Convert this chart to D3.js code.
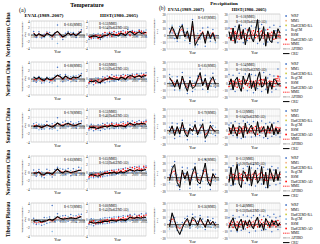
<!DOCTYPE html>
<html><head><meta charset="utf-8">
<script src="https://cdn.jsdelivr.net/npm/d3@7"></script>
<style>body{margin:0;background:#fff}svg{display:block}text{font-family:"Liberation Serif","Times New Roman",serif}</style>
</head><body><svg id="c" width="320" height="244"></svg>
<script>
const regions = ["Northeastern China","Northern China","Southern China","Northwestern China","Tibetan Plateau"];
const evalYears = [1989,1990,1991,1992,1993,1994,1995,1996,1997,1998,1999,2000,2001,2002,2003,2004,2005,2006,2007];
const histYears = [1980,1981,1982,1983,1984,1985,1986,1987,1988,1989,1990,1991,1992,1993,1994,1995,1996,1997,1998,1999,2000,2001,2002,2003,2004,2005];
const evalTicks = [1988,1992,1996,2000,2004,2008];
const histTicks = [1980,1985,1990,1995,2000,2005];
const tempTicks = [-4,-2,0,2,4];
const precTicks = [-20,-10,0,10,20,30];
const legendNames = ["WRF","MM5","HadGEM3-RA","RegCM","RSM","HadGEM3-AO","MME","APHRO","CRU"];

// Temperature EVAL (1989-2007), °C
const tempEvalCRU = [
[0.3,-0.4,0.2,-0.2,-0.6,0.3,-0.1,-0.5,0.4,0.9,0.1,-0.7,-0.3,0.5,-0.2,0.3,-0.4,0.3,0.9],
[0.4,-0.1,0.3,-0.2,-0.5,0.2,-0.3,-0.2,0.3,0.8,0.5,-0.1,0.6,0.2,-0.1,0.4,0.2,0.3,0.9],
[-0.3,-0.1,-0.2,-0.5,-0.2,0.1,-0.1,-0.4,0.0,0.6,0.2,-0.1,0.3,0.5,0.2,0.1,0.0,0.4,0.5],
[-0.2,-0.1,0.1,-0.6,-0.5,-0.1,-0.2,-0.4,0.3,0.9,0.2,-0.1,0.4,0.2,0.0,0.1,0.3,0.5,0.6],
[-0.4,-0.2,-0.3,-0.6,-0.4,-0.3,0.1,-0.2,0.2,0.7,0.3,0.1,0.2,0.3,0.4,0.3,0.2,0.5,0.7]];
const tempEvalMME = [
[0.5,-0.6,0.4,-0.5,-0.4,0.6,0.0,-0.8,0.2,1.0,-0.3,-0.9,-0.1,0.3,0.1,0.0,-0.2,0.5,1.1],
[-0.2,-0.4,0.1,-0.5,-0.6,-0.1,-0.4,-0.5,0.2,0.7,0.3,-0.3,0.4,0.0,-0.3,0.2,0.0,0.5,0.8],
[-0.1,0.2,-0.4,-0.3,-0.4,0.3,-0.3,-0.2,0.2,0.5,0.0,0.2,0.4,0.3,0.4,-0.1,0.2,0.3,0.6],
[0.0,-0.3,0.3,-0.4,-0.7,0.1,0.0,-0.6,0.1,0.7,0.4,0.1,0.2,0.4,-0.2,0.3,0.1,0.6,0.4],
[-0.5,-0.9,-0.6,-0.8,-0.5,-0.3,-0.1,-0.4,0.0,0.5,0.2,0.3,0.4,0.1,0.5,0.4,0.3,0.9,0.6]];
const tempEvalWRF = [
[0.9,-0.9,0.8,-1.0,0.1,0.3,0.6,-1.3,0.0,2.8,-0.2,-1.5,0.4,0.9,-0.4,0.6,-0.9,0.1,1.4],
[-0.6,-0.9,0.5,-1.1,-0.2,0.3,-0.9,0.1,-0.4,2.7,0.9,-0.8,1.0,-0.5,0.4,-0.3,0.6,0.1,1.2],
[0.4,-0.6,0.3,-0.9,0.2,1.0,-0.8,0.4,-0.5,1.9,-0.6,0.8,1.1,-0.3,0.9,0.5,-0.4,0.9,1.1],
[0.6,-0.9,0.7,-1.0,-1.3,0.8,-0.5,-1.1,0.7,1.3,-0.2,0.8,-0.4,1.0,-0.8,0.9,-0.4,1.3,-0.3],
[0.3,-1.2,-0.2,-1.4,0.5,-0.9,0.6,3.4,-0.5,1.4,-0.4,0.9,1.0,-0.4,1.2,-0.1,0.9,0.4,1.3]];
const tempEvalRegCM = [
[-0.1,-0.2,0.0,-0.2,-0.9,0.9,-0.5,-0.3,0.5,-2.7,-0.6,-0.5,-0.4,0.2,0.6,-0.3,0.2,0.8,0.7],
[0.3,0.1,-0.4,0.2,-1.0,-0.6,0.2,-1.1,0.8,-1.9,-0.3,0.3,-0.2,0.6,-0.8,0.7,-0.5,0.9,0.4],
[-0.6,0.7,-1.0,0.3,-0.9,-0.5,0.2,-0.9,0.8,-1.2,0.5,-0.4,-0.2,0.8,-0.1,-0.6,0.6,-0.2,0.1],
[-0.5,0.3,-0.2,0.2,-0.1,-0.6,0.5,-0.2,-0.5,0.2,1.0,-0.7,0.7,-0.3,0.5,-0.4,0.6,0.0,1.1],
[-1.0,-0.5,-1.1,-0.2,-1.2,0.4,-0.7,-2.9,0.6,-0.3,0.8,-0.4,-0.3,0.7,-0.1,0.9,-0.4,1.3,0.1]];

// Temperature HIST (1980-2005), °C
const tempHistCRU = [
[-0.9,-0.6,-0.4,-0.5,-0.8,-1.0,-0.5,-0.3,-0.2,0.3,0.1,-0.1,-0.3,-0.4,0.4,0.1,-0.3,0.5,0.9,0.5,-0.1,0.4,0.8,0.3,0.5,0.6],
[-0.6,-0.8,-0.7,-0.5,-0.9,-1.0,-0.4,-0.3,-0.1,0.2,0.1,-0.1,-0.2,-0.3,0.3,0.1,-0.2,0.4,0.7,0.6,0.2,0.5,0.7,0.3,0.6,0.7],
[-0.3,-0.5,-0.4,-0.6,-0.7,-0.5,-0.3,-0.2,-0.4,-0.1,0.1,-0.2,-0.3,-0.1,0.0,-0.2,-0.3,0.2,0.6,0.3,0.1,0.4,0.3,0.5,0.4,0.3],
[-0.7,-0.5,-0.6,-0.8,-0.9,-0.6,-0.4,-0.2,-0.3,0.0,-0.1,0.1,-0.2,-0.1,0.2,-0.1,0.1,0.4,0.7,0.5,0.3,0.6,0.5,0.4,0.6,0.7],
[-0.6,-0.7,-0.9,-0.8,-0.7,-0.8,-0.5,-0.4,-0.5,-0.3,-0.2,-0.3,-0.4,-0.2,0.0,-0.1,-0.2,0.1,0.6,0.4,0.3,0.5,0.4,0.3,0.6,0.5]];
const tempHistMME = [
[-0.7,-0.9,-0.3,-0.6,-0.2,-0.8,-0.4,0.0,-0.5,0.2,-0.1,0.3,-0.2,0.1,0.5,-0.1,0.4,0.3,0.0,0.7,0.4,0.2,0.9,0.6,0.4,0.8],
[-0.8,-0.6,-0.9,-0.4,-0.6,-0.7,-0.2,-0.4,0.0,-0.1,0.2,0.0,0.1,0.2,0.1,0.4,0.3,0.2,0.5,0.3,0.6,0.4,0.5,0.8,0.7,0.6],
[-0.5,-0.2,-0.6,-0.3,-0.4,-0.6,-0.1,-0.3,0.0,-0.2,0.2,-0.1,0.1,0.0,0.2,-0.1,0.1,0.3,0.2,0.4,0.2,0.3,0.5,0.3,0.4,0.6],
[-0.9,-0.7,-0.5,-0.7,-0.6,-0.5,-0.3,-0.4,-0.1,-0.2,0.1,0.0,0.2,0.1,0.3,0.2,0.4,0.3,0.5,0.6,0.4,0.7,0.8,0.6,0.9,0.8],
[-0.5,-0.8,-0.6,-0.9,-0.5,-0.6,-0.3,-0.5,-0.2,-0.4,0.0,-0.2,-0.1,0.1,-0.2,0.2,0.0,0.3,0.4,0.2,0.5,0.3,0.6,0.5,0.4,0.7]];
const tempHistWRF = [
[-1.4,-0.5,-1.1,-0.1,-0.9,-1.5,0.2,-0.6,0.4,-0.4,0.6,-0.3,0.5,0.8,-0.2,1.1,0.1,1.5,-0.4,1.2,0.9,-0.5,1.4,0.3,1.0,-0.7],
[-1.3,-0.2,-1.5,-0.9,0.1,-1.2,0.4,-1.0,0.6,-0.8,0.9,-0.6,0.8,-0.4,0.7,1.0,-0.3,0.9,0.2,1.1,0.1,1.2,-0.2,1.3,0.3,1.4],
[-1.1,0.3,-1.3,-0.8,0.2,-1.2,0.5,-0.9,0.6,-0.8,0.7,-0.7,0.6,-0.6,0.8,0.9,-0.5,1.0,-0.3,1.1,0.0,0.9,1.2,-0.2,1.0,1.3],
[-1.5,-0.2,-1.3,-0.1,-1.2,0.2,-1.0,0.3,-0.8,0.5,-0.6,0.6,-0.4,0.8,-0.2,0.9,1.1,-0.1,1.3,0.2,1.4,0.1,1.5,0.4,1.2,1.6],
[-1.2,0.2,-1.5,-0.3,-1.1,0.1,-1.0,0.4,-0.9,0.5,-0.7,0.6,-0.6,0.7,-0.5,0.9,-0.4,1.0,1.2,-0.2,1.3,0.0,1.1,1.4,0.2,1.5]];
const tempHistRegCM = [
[-0.4,-1.3,0.2,-1.0,0.3,-0.4,-1.0,0.5,-0.9,0.9,-0.6,0.8,-0.8,-0.4,1.0,-0.6,0.9,-0.2,0.6,0.2,-0.2,0.9,0.4,1.2,-0.2,1.3],
[-0.3,-1.1,-0.4,0.2,-1.2,-0.2,-0.9,0.3,-0.7,0.5,-0.5,0.6,-0.6,0.8,-0.5,-0.1,0.8,-0.4,0.9,-0.3,1.0,-0.2,1.1,0.4,1.2,-0.1],
[-0.1,-0.9,0.1,-1.0,-1.1,0.1,-0.8,0.3,-0.7,0.4,-0.5,0.5,-0.6,0.5,-0.4,-0.8,0.6,-0.3,0.7,-0.2,0.6,-0.3,0.1,0.9,-0.1,0.2],
[-0.4,-1.2,0.1,-1.1,-0.2,-1.0,0.2,-0.9,0.4,-0.7,0.6,-0.5,0.7,-0.4,0.9,-0.3,-0.1,0.9,0.0,1.1,-0.2,1.2,0.3,1.0,0.5,0.2],
[-0.1,-1.3,0.1,-1.2,-0.2,-1.1,0.3,-1.0,0.4,-0.9,0.5,-0.8,0.6,-0.6,0.7,-0.5,0.8,-0.3,-0.4,0.9,-0.1,1.0,0.2,-0.2,1.1,0.3]];
const tempHistAO = [
[-0.5,-1.0,-0.6,-0.2,-1.2,-0.3,-0.7,0.6,-0.3,0.5,-0.5,0.9,0.0,0.4,0.8,0.3,0.7,0.8,-0.3,0.9,0.6,0.5,1.1,1.0,0.2,0.5],
[-1.0,-0.4,-0.6,-1.1,-0.3,-0.9,-0.6,0.1,-0.3,0.4,-0.2,0.5,0.3,-0.2,0.6,0.2,0.7,0.5,0.1,0.8,0.4,0.9,0.6,0.3,1.0,0.8],
[-0.7,-0.5,-0.2,-0.9,-0.6,-0.3,-0.4,0.2,-0.2,0.1,0.4,0.0,0.3,0.2,-0.1,0.4,0.2,0.6,0.5,0.1,0.7,0.5,0.4,0.8,0.6,0.9],
[-1.1,-0.8,-0.9,-0.4,-0.3,-1.0,-0.5,0.0,0.2,-0.3,0.5,0.3,-0.1,0.6,0.4,0.8,0.5,1.0,0.7,1.2,0.9,1.3,1.1,0.8,1.5,1.2],
[-0.9,-0.5,-0.3,-1.0,-0.8,-0.4,-0.7,-0.2,0.0,-0.6,0.2,0.1,-0.3,0.4,0.2,0.5,0.1,0.7,0.9,0.6,0.3,0.8,1.0,0.7,0.9,1.1]];

// Precipitation EVAL (1989-2007), %
const precEvalCRU = [
[2,12,4,-6,9,14,-3,6,-10,20,-15,-8,-2,4,-12,6,-5,3,-9],
[8,2,-6,5,-9,10,-3,-12,4,-8,-5,6,15,-4,7,-10,3,9,-2],
[-3,6,-8,5,-6,11,-4,-10,3,-2,8,-7,2,9,-12,-5,7,1,-3],
[-5,12,18,-8,-15,10,-3,8,-12,6,15,-7,-10,4,20,-6,-13,5,-2],
[-4,16,5,-8,-15,-6,3,8,-3,10,6,-2,9,2,-5,7,-1,4,-3]];
const precEvalAPHRO = [
[0,10,3,-4,7,12,-1,5,-8,17,-13,-6,0,3,-10,5,-4,2,-7],
[7,1,-5,4,-8,9,-2,-10,3,-7,-4,5,13,-3,6,-9,2,8,-1],
[-2,5,-7,4,-5,10,-3,-9,2,-1,7,-6,1,8,-11,-4,6,1,-2],
[-4,10,15,-7,-13,8,-2,7,-10,5,13,-6,-8,3,17,-5,-11,4,-1],
[-3,14,4,-7,-13,-5,2,7,-2,9,5,-1,8,2,-4,6,0,3,-2]];
const precEvalMME = [
[4,8,1,-3,5,9,-2,2,-6,13,-9,-6,1,5,-7,3,-2,4,-5],
[5,4,-3,2,-5,6,-1,-7,2,-4,-3,3,10,-2,4,-6,1,5,0],
[-1,4,-4,3,-2,7,-2,-5,1,0,5,-4,2,5,-7,-3,4,0,-1],
[-2,7,9,-4,-8,6,0,5,-6,4,8,-3,-5,3,11,-3,-7,3,0],
[-1,8,3,-4,-7,-3,2,5,0,6,4,0,5,1,-2,4,1,3,-1]];
const precEvalWRF = [
[9,3,-5,-9,12,15,4,-3,-12,22,-5,-14,6,10,-16,11,-9,8,-1],
[12,-4,-10,9,-2,15,2,-15,8,-12,1,10,20,-9,11,-3,7,14,-6],
[4,10,-12,9,-9,14,2,-14,7,-6,12,-2,7,14,-16,0,11,6,-8],
[3,15,22,-12,-18,14,5,13,-16,11,19,-11,-15,9,25,-10,-18,10,4],
[5,12,9,-9,-14,2,8,11,-6,14,10,4,12,7,-8,10,5,8,2]];
const precEvalRegCM = [
[-3,14,7,2,-2,5,-8,9,1,6,-17,2,-6,-1,-3,-4,3,-2,-11],
[1,9,2,-3,-11,-1,-7,-5,-2,3,-9,-2,5,4,-1,-13,-4,-1,5],
[-6,-2,1,-4,3,2,-8,-1,-5,5,-1,-9,-4,2,-3,-8,1,-6,4],
[-8,1,4,3,-2,-1,-7,-3,2,-4,1,5,2,-6,3,4,-1,-5,-6],
[-7,3,-3,2,-2,-9,-4,-1,5,-3,-2,-6,-1,-5,4,-3,-4,-2,-6]];

// Precipitation HIST (1980-2005), %
const precHistCRU = [
[5,-8,10,-12,3,15,-6,8,-14,2,11,-4,-10,6,22,-9,-3,12,-16,4,-8,-11,7,-5,9,3],
[-3,6,-10,4,8,-5,-12,10,-2,5,14,-8,3,-11,7,16,-6,-4,9,-15,2,-9,6,4,-3,-1],
[4,-6,8,-2,-9,6,3,-11,10,-5,2,7,-3,-8,12,-4,-1,5,-10,6,-2,9,-7,3,-6,2],
[-8,14,-12,6,18,-10,-15,9,4,-6,16,-13,2,10,-9,-4,15,-11,7,-16,12,3,-7,11,-5,8],
[-6,3,9,-4,-10,2,7,-8,5,-3,6,-2,-7,4,10,-5,1,-9,8,3,-4,6,-1,5,-3,2]];
const precHistAPHRO = [
[4,-7,9,-10,2,13,-5,7,-12,2,10,-3,-9,5,19,-8,-2,10,-14,3,-7,-10,6,-4,8,2],
[-2,5,-9,3,7,-4,-10,9,-1,4,12,-7,2,-10,6,14,-5,-3,8,-13,2,-8,5,3,-2,0],
[3,-5,7,-2,-8,5,2,-10,9,-4,2,6,-2,-7,11,-3,0,4,-9,5,-1,8,-6,2,-5,1],
[-7,12,-10,5,16,-9,-13,8,3,-5,14,-11,2,9,-8,-3,13,-10,6,-14,10,3,-6,10,-4,7],
[-5,2,8,-3,-9,2,6,-7,4,-2,5,-2,-6,3,9,-4,1,-8,7,2,-3,5,0,4,-2,1]];
const precHistMME = [
[2,4,-3,6,-5,1,5,-4,3,-2,0,6,-1,4,-3,2,7,-5,1,-4,3,-2,5,0,-3,4],
[3,-2,4,-5,2,6,-3,1,5,-4,2,3,-6,4,-1,5,-3,6,-2,1,4,-5,3,-2,11,2],
[-2,3,-1,4,-3,2,-4,5,-2,3,1,-3,4,-2,2,-1,5,-3,1,-4,3,-2,2,-1,4,-3],
[3,-2,5,-4,2,6,-5,3,-1,4,-3,2,6,-4,3,5,-2,4,-6,2,-3,5,1,-2,4,-1],
[2,-3,4,1,-4,3,-2,5,-1,3,-4,2,4,-3,1,5,-2,3,-1,4,2,-3,5,1,-2,3]];
const precHistWRF = [
[10,-5,2,12,-10,8,14,-11,9,-8,6,13,-7,11,-12,9,15,-13,7,-10,11,-9,14,6,-11,12],
[12,-9,11,-12,8,14,-10,9,13,-11,10,12,-14,11,-8,13,-12,15,-9,7,12,-13,10,-9,20,9],
[7,10,-8,12,-11,9,-12,13,-10,11,8,-10,12,-9,10,-8,13,-11,9,-12,11,-9,10,-7,12,-10],
[14,-12,16,-10,13,17,-14,12,-9,15,-11,13,18,-13,12,16,-10,14,-15,11,-12,15,10,-11,13,-9],
[9,-10,12,8,-11,10,-9,13,-7,11,-12,9,12,-10,8,13,-9,11,-8,12,10,-11,14,9,-8,11]];
const precHistAO = [
[-4,9,-8,2,3,-6,-1,5,-6,7,-5,0,6,-4,5,-8,0,3,-7,8,-3,4,-6,-5,4,-3],
[-5,4,-3,1,-6,2,3,-7,-2,4,-6,-4,2,-3,6,-2,5,-1,4,-6,-3,2,-5,6,3,-4],
[-6,-2,5,-4,3,-5,2,-3,4,-5,-3,2,-4,5,-6,3,-2,4,-5,2,-4,6,-3,4,-2,3],
[-4,5,-6,2,-3,-1,4,-5,6,-2,3,-4,-1,5,-3,-2,6,-4,3,-5,4,-1,-3,5,-2,4],
[-3,4,-5,-2,3,-4,5,-3,2,-5,4,-1,-3,5,-4,-2,6,-3,4,-2,-5,3,-2,-4,5,-1]];

const tempEvalR = ["R=0.85(MME)","R=0.88(MME)","R=0.78(MME)","R=0.83(MME)","R=0.72(MME)"];
const tempHistR = [["R=0.53(MME)","R=0.54(HadGEM3-AO)"],["R=0.63(MME)","R=0.55(HadGEM3-AO)"],["R=0.53(MME)","R=0.46(HadGEM3-AO)"],["R=0.65(MME)","R=0.53(HadGEM3-AO)"],["R=0.60(MME)","R=0.45(HadGEM3-AO)"]];
const precEvalR = ["R=0.87(MME)","R=0.85(MME)","R=0.79(MME)","R=0.76(MME)","R=0.56(MME)"];
const precHistR = [["R=-0.18(MME)","R=-0.18(HadGEM3-AO)"],["R=-0.34(MME)","R=-0.16(HadGEM3-AO)"],["R=0.12(MME)","R=0.04(HadGEM3-AO)"],["R=0.12(MME)","R=0.20(HadGEM3-AO)"],["R=0.46(MME)","R=0.33(HadGEM3-AO)"]];

const COL = {WRF:"#4472c4",MM5:"#f4b183","HadGEM3-RA":"#c9c93c",RegCM:"#7fb4e3",RSM:"#7f8fa6","HadGEM3-AO":"#ff0000",MME:"#ff0000"};

const svg = d3.select("#c");
const rowTop = [14,62,109,156,203];
const tempTop = [21,62,109,156,203];
const tempBot = [48,95,142,189,236];
const precH = 35;

function panel(o){
  const g = svg.append("g");
  const x = d3.scaleLinear().domain(o.xDom).range([o.x0,o.x1]);
  const y = d3.scaleLinear().domain(o.yDom).range([o.y1,o.y0]);
  g.append("rect").attr("x",o.x0).attr("y",o.y0).attr("width",o.x1-o.x0).attr("height",o.y1-o.y0)
    .attr("fill","#fff").attr("stroke","#c8c8c8").attr("stroke-width",0.4);
  const yrs = d3.range(o.xDom[0],o.xDom[1]+1);
  g.selectAll(null).data(yrs).enter().append("line")
    .attr("x1",d=>x(d)).attr("x2",d=>x(d)).attr("y1",o.y0).attr("y2",o.y1)
    .attr("stroke","#d6d6d6").attr("stroke-width",0.35);
  g.selectAll(null).data(o.yTicks).enter().append("line")
    .attr("x1",o.x0).attr("x2",o.x1).attr("y1",d=>y(d)).attr("y2",d=>y(d))
    .attr("stroke","#bdbdbd").attr("stroke-width",0.35);
  const ya = g.append("g").attr("transform",`translate(${o.x0},0)`)
    .call(d3.axisLeft(y).tickValues(o.yTicks).tickSize(0).tickPadding(1.2));
  ya.select(".domain").remove();
  ya.selectAll("text").attr("font-size",3.4).attr("font-family","Liberation Serif").attr("fill","#222");
  const xa = g.append("g").attr("transform",`translate(0,${y(0)})`)
    .call(d3.axisBottom(x).tickValues(o.xTicks).tickFormat(d3.format("d")).tickSize(0.8).tickPadding(0.6));
  xa.select(".domain").attr("stroke","#000").attr("stroke-width",0.6);
  xa.selectAll("line").attr("stroke","#000").attr("stroke-width",0.3);
  xa.selectAll("text").attr("font-size",3.2).attr("font-family","Liberation Serif").attr("fill","#222");
  xa.selectAll(".tick").filter((d,i,n)=>i===n.length-1).select("text").attr("text-anchor","end").attr("dx","0.6");
  xa.selectAll(".tick").filter((d,i)=>i===0).select("text").attr("text-anchor","start").attr("dx","-0.4");
  o.points.forEach(p=>{
    g.selectAll(null).data(p.v).enter().append("circle")
      .attr("cx",(d,i)=>x(o.years[i])).attr("cy",d=>y(d)).attr("r",0.75).attr("fill",p.c);
  });
  o.lines.forEach(l=>{
    const ln = d3.line().x((d,i)=>x(o.years[i])).y(d=>y(d));
    g.append("path").attr("d",ln(l.v)).attr("fill","none").attr("stroke",l.c)
      .attr("stroke-width",l.w).attr("stroke-dasharray",l.dash||null);
  });
  g.append("text").attr("x",(o.x0+o.x1)/2).attr("y",o.y1+4.5).attr("text-anchor","middle")
    .attr("font-size",3.6).text("Year");
  return {x,y,g};
}

for(let i=0;i<5;i++){
  const p1 = panel({x0:31,x1:84,y0:tempTop[i],y1:tempBot[i],xDom:[1988,2008],xTicks:evalTicks,yDom:[-4,4],yTicks:tempTicks,years:evalYears,
    points:[{v:tempEvalWRF[i],c:COL.WRF},{v:tempEvalRegCM[i],c:COL.RegCM}],
    lines:[{v:tempEvalMME[i],c:COL.MME,w:0.9,dash:"1.6,0.8"},{v:tempEvalCRU[i],c:"#000",w:1.1}]});
  p1.g.append("text").attr("x",82).attr("y",tempTop[i]+5).attr("text-anchor","end").attr("font-size",3).text(tempEvalR[i]);
  const p2 = panel({x0:89,x1:146,y0:tempTop[i],y1:tempBot[i],xDom:[1980,2005],xTicks:histTicks,yDom:[-4,4],yTicks:tempTicks,years:histYears,
    points:[{v:tempHistWRF[i],c:COL.WRF},{v:tempHistRegCM[i],c:COL.RegCM},{v:tempHistAO[i],c:COL["HadGEM3-AO"]}],
    lines:[{v:tempHistMME[i],c:COL.MME,w:0.9,dash:"1.6,0.8"},{v:tempHistCRU[i],c:"#000",w:1.1}]});
  tempHistR[i].forEach((t,k)=>p2.g.append("text").attr("x",99).attr("y",tempTop[i]+3.5+k*4.5).attr("font-size",3).text(t));
  const pt = rowTop[i], pb = rowTop[i]+precH;
  const p3 = panel({x0:167,x1:218,y0:pt,y1:pb,xDom:[1988,2008],xTicks:evalTicks,yDom:[-20,30],yTicks:precTicks,years:evalYears,
    points:[{v:precEvalWRF[i],c:COL.WRF},{v:precEvalRegCM[i],c:COL.RegCM}],
    lines:[{v:precEvalMME[i],c:COL.MME,w:0.9,dash:"1.6,0.8"},{v:precEvalAPHRO[i],c:"#333",w:0.7,dash:"0.6,0.6"},{v:precEvalCRU[i],c:"#000",w:1}]});
  p3.g.append("text").attr("x",216).attr("y",pt+5).attr("text-anchor","end").attr("font-size",3).text(precEvalR[i]);
  const p4 = panel({x0:229,x1:280,y0:pt,y1:pb,xDom:[1980,2005],xTicks:histTicks,yDom:[-20,30],yTicks:precTicks,years:histYears,
    points:[{v:precHistWRF[i],c:COL.WRF},{v:precHistAO[i],c:COL["HadGEM3-AO"]}],
    lines:[{v:precHistMME[i],c:COL.MME,w:0.9,dash:"1.6,0.8"},{v:precHistAPHRO[i],c:"#333",w:0.7,dash:"0.6,0.6"},{v:precHistCRU[i],c:"#000",w:1}]});
  precHistR[i].forEach((t,k)=>p4.g.append("text").attr("x",236).attr("y",pt+4+k*4.5).attr("font-size",3).text(t));

  const lg = svg.append("g");
  legendNames.forEach((n,k)=>{
    const ly = pt+2+k*4.7;
    if(k<6){
      lg.append("rect").attr("x",285.3).attr("y",ly-0.8).attr("width",1.6).attr("height",1.6).attr("fill",COL[n]);
    } else {
      const st = n==="MME"?{c:"#ff0000",d:"1.2,0.6",w:0.8}:n==="APHRO"?{c:"#333",d:"0.6,0.6",w:0.8}:{c:"#000",d:null,w:1};
      lg.append("line").attr("x1",283).attr("x2",289.5).attr("y1",ly).attr("y2",ly).attr("stroke",st.c).attr("stroke-width",st.w).attr("stroke-dasharray",st.d);
    }
    lg.append("text").attr("x",291).attr("y",ly+1.2).attr("font-size",3.5).text(n);
  });

  const cy = (tempTop[i]+tempBot[i])/2;
  svg.append("text").attr("transform",`translate(10,${cy}) rotate(-90)`).attr("text-anchor","middle")
    .attr("font-size",5.2).attr("font-weight","bold").text(regions[i]);
  svg.append("text").attr("transform",`translate(22.5,${cy}) rotate(-90)`).attr("text-anchor","middle").attr("font-size",2.8).text("Temperature variability");
  svg.append("text").attr("transform",`translate(25.5,${cy}) rotate(-90)`).attr("text-anchor","middle").attr("font-size",2.8).text("(°C)");
  const pcy = pt+precH/2;
  svg.append("text").attr("transform",`translate(155,${pcy}) rotate(-90)`).attr("text-anchor","middle").attr("font-size",2.8).text("Precipitation variability");
  svg.append("text").attr("transform",`translate(158,${pcy}) rotate(-90)`).attr("text-anchor","middle").attr("font-size",2.8).text("(%)");
}

svg.append("text").attr("x",87).attr("y",6.5).attr("text-anchor","middle").attr("font-size",6).attr("font-weight","bold").text("Temperature");
svg.append("text").attr("x",19).attr("y",12).attr("font-size",6).text("(a)");
svg.append("text").attr("x",44).attr("y",16.5).attr("text-anchor","middle").attr("font-size",5).attr("font-weight","bold").text("EVAL(1989–2007)");
svg.append("text").attr("x",119).attr("y",16.5).attr("text-anchor","middle").attr("font-size",5).attr("font-weight","bold").text("HIST(1980–2005)");
svg.append("text").attr("x",224).attr("y",4.5).attr("text-anchor","middle").attr("font-size",5).attr("font-weight","bold").text("Precipitation");
svg.append("text").attr("x",159).attr("y",10).attr("font-size",5.5).text("(b)");
svg.append("text").attr("x",186).attr("y",10.5).attr("text-anchor","middle").attr("font-size",4.6).attr("font-weight","bold").text("EVAL(1989–2007)");
svg.append("text").attr("x",249).attr("y",10.5).attr("text-anchor","middle").attr("font-size",4.6).attr("font-weight","bold").text("HIST(1980–2005)");
</script></body></html>
